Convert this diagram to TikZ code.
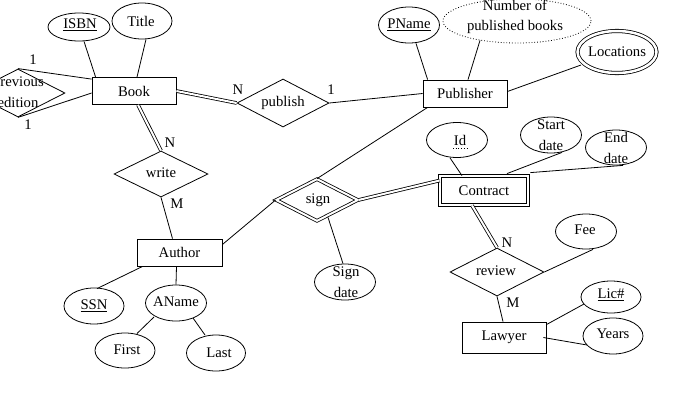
\documentclass[tikz,border=0pt]{standalone}
\usepackage{fontspec}
\setmainfont{Liberation Serif}
\usetikzlibrary{shapes.geometric,calc}
\begin{document}
\begin{tikzpicture}[x=1pt,y=-1pt,line width=0.8pt,
  font=\fontsize{14.7}{20.5}\selectfont,
  entity/.style={draw,rectangle,inner sep=0,minimum width=84,minimum height=27},
  weakentity/.style={entity,double,double distance=2pt},
  attr/.style={draw,ellipse,inner sep=0},
  derived/.style={attr,dotted},
  multival/.style={attr,double,double distance=2.5pt},
  rel/.style={draw,diamond,inner sep=0,minimum width=94,minimum height=48},
  idrel/.style={rel,double,double distance=2pt},
  txt/.style={inner sep=0,align=center},
  card/.style={inner sep=0},
  dbl/.style={double,double distance=2pt}]
\useasboundingbox (0,0) rectangle (674,405);
\clip (0,0) rectangle (674,405);
\fill[white] (0,0) rectangle (674,405);

% entities
\node[entity] (book) at (134,91) {Book};
\node[entity] (publisher) at (465,93.5) {Publisher};
\node[entity,minimum width=85] (author) at (179.5,252.5) {Author};
\node[entity,minimum height=31] (lawyer) at (504,337.5) {Lawyer};
\node[weakentity,minimum width=88,minimum height=29] (contract) at (484,190.5) {Contract};

% relationships
\node[rel] (prev) at (18,93) {};
\node[txt] (prevt) at (18,92) {Previous\\edition};
\node[rel,minimum width=92] (pub) at (283,103) {};
\node[txt] (pubt) at (283,103) {publish};
\node[rel,minimum height=46] (write) at (161,174) {};
\node[txt] (writet) at (161,173) {write};
\node[idrel,minimum width=82,minimum height=42] (sign) at (317,200) {};
\node[txt] (signt) at (318,200) {sign};
\node[rel] (review) at (497,272) {};
\node[txt] (reviewt) at (496,271) {review};

% attributes
\node[attr,minimum width=62,minimum height=28] (isbn) at (79,27) {};
\node[txt] (isbnt) at (80,25) {\underline{ISBN}};
\node[attr,minimum width=60,minimum height=36] (title) at (142,21) {};
\node[txt] (titlet) at (141,21) {Title};
\node[attr,minimum width=61,minimum height=36] (pname) at (409,25) {};
\node[txt] (pnamet) at (409,25) {\underline{PName}};
\node[derived,minimum width=148,minimum height=44] (number) at (517,21) {};
\node[txt] (numbert) at (515,17) {Number of\\published books};
\node[multival,minimum width=79,minimum height=42] (loc) at (617,52) {};
\node[txt] (loct) at (617,52) {Locations};
\node[attr,minimum width=61,minimum height=35] (id) at (457,140) {};
\node[txt] (idt) at (460,140) {Id};
\draw[dotted,line width=0.7pt] ($(id.center)+(-4,8)$) -- ($(id.center)+(10,8)$);
\node[attr,minimum width=61,minimum height=36] (start) at (551,135) {};
\node[txt] (startt) at (551,135) {Start\\date};
\node[attr,minimum width=61,minimum height=35] (end) at (616,147.5) {};
\node[txt] (endt) at (616,148) {End\\date};
\node[attr,minimum width=61,minimum height=36] (signdate) at (345,282) {};
\node[txt] (signdatet) at (346,282) {Sign\\date};
\node[attr,minimum width=61,minimum height=35] (fee) at (586,231.5) {};
\node[txt] (feet) at (585,230) {Fee};
\node[attr,minimum width=60,minimum height=32] (lic) at (611,297) {};
\node[txt] (lict) at (611,295) {\underline{Lic\#}};
\node[attr,minimum width=60,minimum height=36] (years) at (613,336) {};
\node[txt] (yearst) at (613,334) {Years};
\node[attr,minimum width=60,minimum height=36] (ssn) at (94,306) {};
\node[txt] (ssnt) at (94,306) {\underline{SSN}};
\node[attr,minimum width=61,minimum height=36] (aname) at (176,303) {};
\node[txt] (anamet) at (176,302) {AName};
\node[attr,minimum width=60,minimum height=35] (first) at (125,350.5) {};
\node[txt] (firstt) at (127,350) {First};
\node[attr,minimum width=59,minimum height=36] (last) at (216,353) {};
\node[txt] (lastt) at (219,353) {Last};

% cardinalities
\node[card] (c1) at (33,60) {1};
\node[card] (c2) at (28,125) {1};
\node[card] (c3) at (238,90) {N};
\node[card] (c4) at (331,90) {1};
\node[card] (c5) at (170,143) {N};
\node[card] (c6) at (177,204) {M};
\node[card] (c7) at (507,243) {N};
\node[card] (c8) at (513,303) {M};

% connectors
\draw ($(isbn.south)+(5,0)$) -- ($(book.north west)+(4,0)$);
\draw ($(title.south)+(4,0)$) -- ($(book.north)+(3,0)$);
\draw (prev.north) -- ($(book.north west)+(0,2)$);
\draw (prev.south) -- ($(book.west)+(0,2)$);
\draw[dbl] (book.east) -- (pub.west);
\draw (pub.east) -- (publisher.west);
\draw ($(pname.south)+(7,0)$) -- ($(publisher.north west)+(5,0)$);
\draw ($(number.south)+(-37,-3)$) -- ($(publisher.north)+(3,0)$);
\draw ($(loc.center)+(-36,13)$) -- ($(publisher.east)+(0,-2)$);
\draw ($(publisher.south west)+(5,0)$) -- (sign.north);
\draw (sign.west) -- ($(author.east)+(0,-8)$);
\draw[dbl] (sign.east) -- ($(contract.west)+(0,-10)$);
\draw ($(id.south)+(-7,0)$) -- ($(contract.north)+(-22,0)$);
\draw ($(contract.north)+(23,-2)$) -- ($(start.south)+(11,-1)$);
\draw ($(contract.north east)+(2,-3)$) -- ($(end.south)+(7,0)$);
\draw ($(sign.south)+(11,-4)$) -- ($(signdate.north)+(-2,0)$);
\draw[dbl] ($(contract.south)+(-12,0)$) -- (review.north);
\draw (review.east) -- ($(fee.south)+(7,0)$);
\draw (review.south) -- ($(lawyer.north)+(-1,0)$);
\draw ($(lawyer.north east)+(0,3)$) -- ($(lic.center)+(-27,7)$);
\draw ($(lawyer.east)+(-3,0)$) -- ($(years.center)+(-26,9)$);
\draw[dbl] ($(book.south)+(4,0)$) -- (write.north);
\draw (write.south) -- ($(author.north)+(-7,0)$);
\draw ($(author.south west)+(6,0)$) -- ($(ssn.north)+(3,1)$);
\draw ($(author.south)+(-3,0)$) -- (aname.north);
\draw ($(aname.center)+(-22,14)$) -- ($(first.center)+(12,-17)$);
\draw ($(aname.center)+(17,15)$) -- ($(last.center)+(-11,-18)$);
\end{tikzpicture}
\end{document}
